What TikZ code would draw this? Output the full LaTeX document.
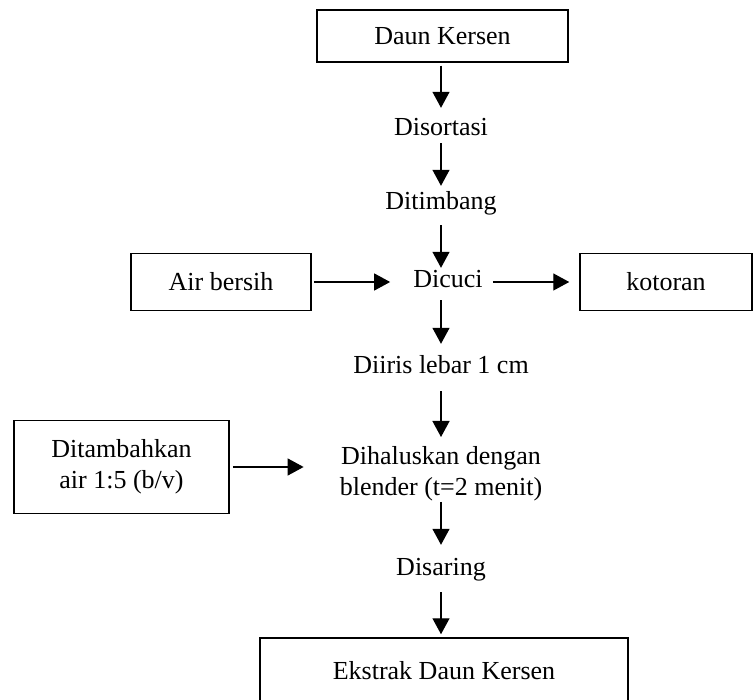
\documentclass[tikz,border=0pt]{standalone}
\usepackage{fontspec}
\setmainfont{Liberation Serif}
\usetikzlibrary{arrows.meta}
\begin{document}
\begin{tikzpicture}[x=1pt,y=-1pt,
  font=\fontsize{26}{31}\selectfont,
  box/.style={draw, line width=1.5pt, inner sep=0pt},
  stp/.style={inner sep=0pt, text height=18pt, text depth=6pt, anchor=base},
  arr/.style={line width=1.4pt, -{Triangle[length=16pt,width=17pt]}},
]
\useasboundingbox (0,0) rectangle (753,700);
\node[box, minimum width=251pt, minimum height=52pt] (k1) at (442.5,36) {Daun Kersen};
\node[stp] (dis) at (441,136) {Disortasi};
\node[stp] (tim) at (441,210) {Ditimbang};
\node[stp] (cuci) at (448,288) {Dicuci};
\node[box, minimum width=180pt, minimum height=57pt] (air) at (221,282) {Air bersih};
\node[box, minimum width=172pt, minimum height=57pt] (kot) at (666,282) {kotoran};
\node[stp] (iris) at (441,374) {Diiris lebar 1 cm};
\node[align=center, inner sep=0pt, anchor=north] (hal) at (441,446) {Dihaluskan dengan\\blender (t=2 menit)};
\node[box, minimum width=215pt, minimum height=93pt, align=center] (tam) at (121.5,467) {Ditambahkan\\air 1:5 (b/v)};
\node[stp] (sar) at (441,576) {Disaring};
\node[box, minimum width=368pt, minimum height=76pt, text depth=12pt] (eks) at (444,676) {Ekstrak Daun Kersen};

\draw[arr, shorten <=3pt, shorten >=10pt] (k1.south -| dis) -- (dis);
\draw[arr, shorten <=1pt, shorten >=6pt] (dis) -- (tim);
\draw[arr, shorten <=9pt, shorten >=2pt] (tim) -- (cuci.north -| tim);
\draw[arr, shorten <=2pt, shorten >=23pt] (air) -- (cuci);
\draw[arr, shorten <=10pt, shorten >=10pt] (cuci) -- (kot);
\draw[arr, shorten <=6pt, shorten >=12pt] (cuci.south -| iris) -- (iris);
\draw[arr, shorten <=11pt, shorten >=9pt] (iris) -- (hal);
\draw[arr, shorten <=3pt, shorten >=36pt] (tam.east) -- (tam.east -| hal.west);
\draw[arr, shorten <=1pt, shorten >=13pt] (hal) -- (sar);
\draw[arr, shorten <=10pt, shorten >=3pt] (sar) -- (eks.north -| sar);
\end{tikzpicture}
\end{document}
